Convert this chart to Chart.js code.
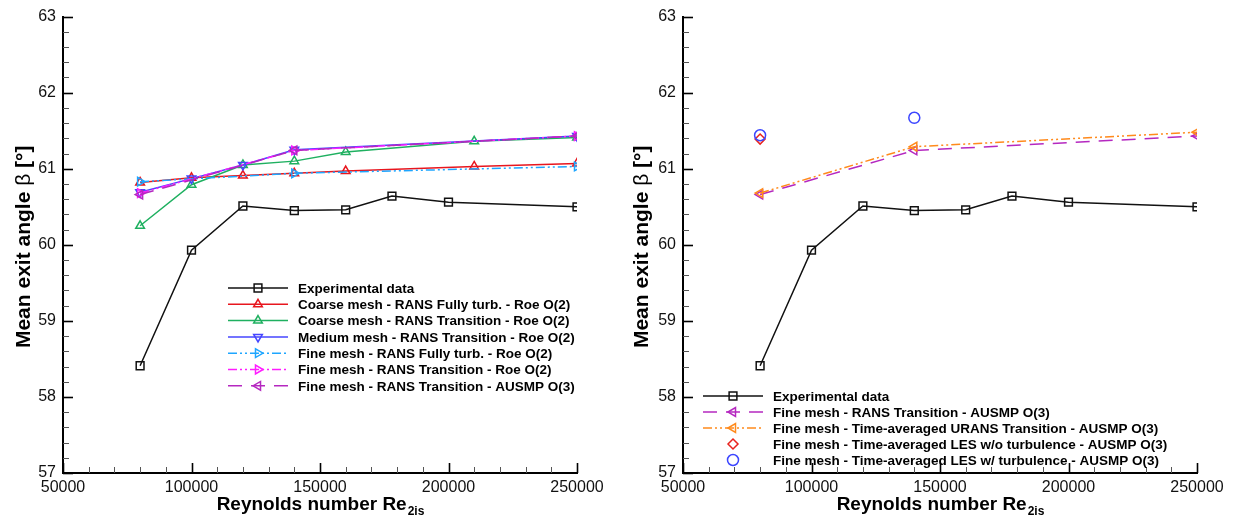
<!DOCTYPE html>
<html>
<head>
<meta charset="utf-8">
<script src="https://cdn.jsdelivr.net/npm/chart.js@4.4.0/dist/chart.umd.min.js"></script>
<style>
  body { margin: 0; background: #fff; }
  #wrap { position: relative; width: 1236px; height: 521px; }
  canvas { position: absolute; top: 0; }
</style>
</head>
<body>
<div id="wrap">
  <canvas id="left" width="618" height="521" style="left:0"></canvas>
  <canvas id="right" width="618" height="521" style="left:618px"></canvas>
</div>
<script>
// Reynolds numbers of each run set
const reExp    = [80000, 100000, 120000, 140000, 160000, 178000, 200000, 250000];
const reCoarse = [80000, 100000, 120000, 140000, 160000, 210000, 250000];
const reMedium = [80000, 100000, 120000, 140000, 250000];
const reFine   = [80000, 140000, 250000];
const reLes    = [80000];
const reLesTurb = [80000, 140000];

// mean exit angle beta [deg]
const betaExp          = [58.41, 59.93, 60.51, 60.45, 60.46, 60.64, 60.56, 60.50];
const betaCoarseFully  = [60.82, 60.88, 60.91, 60.94, 60.97, 61.03, 61.07];
const betaCoarseTrans  = [60.25, 60.79, 61.05, 61.10, 61.22, 61.36, 61.41];
const betaMediumTrans  = [60.69, 60.87, 61.05, 61.25, 61.43];
const betaFineFully    = [60.83, 60.94, 61.03];
const betaFineTrans    = [60.68, 61.24, 61.43];
const betaFineAusmp    = [60.66, 61.24, 61.43];
const betaUrans        = [60.68, 61.29, 61.48];
const betaLes          = [61.39];
const betaLesTurb      = [61.44, 61.67];

const yTicks = [57, 58, 59, 60, 61, 62, 63];
const xTicks = [50000, 100000, 150000, 200000, 250000];

const DASHDOTDOT = [9, 3, 2, 3, 2, 3];

function series(label, xs, ys, st) {
  return {
    label: label,
    data: xs.map((x, i) => ({ x: x, y: ys[i] })),
    showLine: st.line !== false,
    borderColor: st.color,
    borderWidth: st.lw || 1.5,
    borderDash: st.dash || [],
    pointStyle: st.marker,
    rotation: st.rot || 0,
    pointRadius: st.r || 5,
    pointBorderWidth: 1.5,
    pointBorderColor: st.color,
    pointBackgroundColor: 'rgba(255,255,255,0)',
    tension: 0
  };
}

function drawMarker(ctx, style, x, y, r, rot) {
  ctx.beginPath();
  if (style === 'rect') {
    const s = r * Math.SQRT1_2;
    ctx.rect(x - s, y - s, 2 * s, 2 * s);
  } else if (style === 'circle') {
    ctx.arc(x, y, r, 0, Math.PI * 2);
  } else if (style === 'rectRot') {
    ctx.moveTo(x, y - r); ctx.lineTo(x + r, y); ctx.lineTo(x, y + r); ctx.lineTo(x - r, y); ctx.closePath();
  } else {
    let a = (rot || 0) * Math.PI / 180;
    for (let k = 0; k < 3; k++) {
      const ang = a - Math.PI / 2 + k * 2 * Math.PI / 3;
      const px = x + r * Math.cos(ang), py = y + r * Math.sin(ang);
      if (k === 0) ctx.moveTo(px, py); else ctx.lineTo(px, py);
    }
    ctx.closePath();
  }
  ctx.stroke();
}

const deco = {
  id: 'deco',
  afterDraw(chart, args, o) {
    const { ctx, chartArea: a, scales: { x, y } } = chart;
    ctx.save();
    // inward ticks
    ctx.strokeStyle = '#000';
    for (let v = 50000; v <= 250000; v += 10000) {
      const major = v % 50000 === 0;
      const px = Math.round(x.getPixelForValue(v)) + 0.5;
      ctx.lineWidth = major ? 1.6 : 1;
      ctx.strokeStyle = major ? '#000' : '#555';
      ctx.beginPath(); ctx.moveTo(px, a.bottom); ctx.lineTo(px, a.bottom - (major ? 10 : 6)); ctx.stroke();
    }
    for (let i = 0; i <= 30; i++) {
      const v = 57 + i * 0.2;
      const major = i % 5 === 0;
      const py = Math.round(y.getPixelForValue(v)) + 0.5;
      ctx.lineWidth = major ? 1.6 : 1;
      ctx.strokeStyle = major ? '#000' : '#555';
      ctx.beginPath(); ctx.moveTo(a.left, py); ctx.lineTo(a.left + (major ? 10 : 6), py); ctx.stroke();
    }
    // axis titles
    ctx.fillStyle = '#000';
    ctx.textBaseline = 'alphabetic';
    const bold = 'bold 19px "Liberation Sans", Arial, sans-serif';
    const yBold = 'bold 21px "Liberation Sans", Arial, sans-serif';
    const yReg = '21px "Liberation Sans", Arial, sans-serif';
    const parts = [['Mean exit angle ', yBold], ['\u03b2', yReg], [' [\u00b0]', yBold]];
    let w = 0;
    parts.forEach(p => { ctx.font = p[1]; w += ctx.measureText(p[0]).width; });
    ctx.translate(o.yTitleX, (a.top + a.bottom) / 2 + 2);
    ctx.rotate(-Math.PI / 2);
    let cx = -w / 2;
    parts.forEach(p => { ctx.font = p[1]; ctx.fillText(p[0], cx, 8); cx += ctx.measureText(p[0]).width; });
    ctx.setTransform(1, 0, 0, 1, 0, 0);
    ctx.font = bold;
    const main = 'Reynolds number Re';
    const mw = ctx.measureText(main).width;
    ctx.font = 'bold 12px "Liberation Sans", Arial, sans-serif';
    const sw = ctx.measureText('2is').width;
    let sx = (a.left + a.right) / 2 - (mw + sw) / 2;
    ctx.font = bold;
    ctx.fillText(main, sx, 510);
    ctx.font = 'bold 12px "Liberation Sans", Arial, sans-serif';
    ctx.fillText('2is', sx + mw + 1, 515);
    // legend
    const L = o.legend;
    ctx.font = 'bold 13.5px "Liberation Sans", Arial, sans-serif';
    ctx.textBaseline = 'middle';
    chart.data.datasets.forEach((ds, i) => {
      const ly = L.y + i * L.dy;
      ctx.strokeStyle = ds.borderColor;
      ctx.lineWidth = ds.borderWidth;
      if (ds.showLine) {
        ctx.setLineDash(ds.borderDash);
        ctx.beginPath(); ctx.moveTo(L.x0, ly); ctx.lineTo(L.x1, ly); ctx.stroke();
        ctx.setLineDash([]);
      }
      ctx.lineWidth = 1.5;
      drawMarker(ctx, ds.pointStyle, (L.x0 + L.x1) / 2, ly, ds.pointRadius, ds.rotation);
      ctx.fillStyle = '#000';
      ctx.fillText(ds.label, L.tx, ly + 1);
    });
    ctx.restore();
  }
};

function makeChart(id, datasets, pad, yAxisW, opts) {
  const n = datasets.length;
  datasets.forEach((d, i) => { d.order = n - i; });
  return new Chart(document.getElementById(id), {
    type: 'scatter',
    data: { datasets: datasets },
    plugins: [deco],
    options: {
      responsive: false,
      animation: false,
      layout: { padding: { top: 10, right: pad, left: 0, bottom: 0 } },
      plugins: { legend: { display: false }, tooltip: { enabled: false }, deco: opts },
      scales: {
        x: {
          type: 'linear', min: 50000, max: 250000,
          afterBuildTicks: s => { s.ticks = xTicks.map(v => ({ value: v })); },
          afterFit: s => { s.height = 48; },
          grid: { display: false, drawTicks: false },
          border: { display: true, color: '#000', width: 2 },
          ticks: { color: '#111', padding: 5, maxRotation: 0, font: { family: '"Liberation Sans", Arial', size: 16 },
                   callback: v => String(v) }
        },
        y: {
          type: 'linear', min: 57, max: 63,
          afterBuildTicks: s => { s.ticks = yTicks.map(v => ({ value: v })); },
          afterFit: s => { s.width = yAxisW; },
          grid: { display: false, drawTicks: false },
          border: { display: true, color: '#000', width: 2 },
          ticks: { color: '#111', padding: 7, font: { family: '"Liberation Sans", Arial', size: 16 },
                   callback: v => String(v) }
        }
      }
    }
  });
}

makeChart('left', [
  series('Experimental data', reExp, betaExp, { color: '#111', marker: 'rect', r: 5.5 }),
  series('Coarse mesh - RANS Fully turb. - Roe O(2)', reCoarse, betaCoarseFully, { color: '#e8161e', marker: 'triangle' }),
  series('Coarse mesh - RANS Transition - Roe O(2)', reCoarse, betaCoarseTrans, { color: '#1fb060', marker: 'triangle' }),
  series('Medium mesh - RANS Transition - Roe O(2)', reMedium, betaMediumTrans, { color: '#4646ff', marker: 'triangle', rot: 180 }),
  series('Fine mesh - RANS Fully turb. - Roe O(2)', reFine, betaFineFully, { color: '#1ea6ff', marker: 'triangle', rot: 90, dash: DASHDOTDOT }),
  series('Fine mesh - RANS Transition - Roe O(2)', reFine, betaFineTrans, { color: '#ff1cff', marker: 'triangle', rot: 90, dash: DASHDOTDOT }),
  series('Fine mesh - RANS Transition - AUSMP O(3)', reFine, betaFineAusmp, { color: '#b528c0', marker: 'triangle', rot: -90, dash: [14, 9] })
], 41, 63, { yTitleX: 22, legend: { x0: 228, x1: 288, tx: 298, y: 288, dy: 16.3 } });

makeChart('right', [
  series('Experimental data', reExp, betaExp, { color: '#111', marker: 'rect', r: 5.5 }),
  series('Fine mesh - RANS Transition - AUSMP O(3)', reFine, betaFineAusmp, { color: '#b528c0', marker: 'triangle', rot: -90, dash: [14, 9] }),
  series('Fine mesh - Time-averaged URANS Transition - AUSMP O(3)', reFine, betaUrans, { color: '#ff8a1c', marker: 'triangle', rot: -90, dash: DASHDOTDOT }),
  series('Fine mesh - Time-averaged LES w/o turbulence - AUSMP O(3)', reLes, betaLes, { color: '#e8231e', marker: 'rectRot', line: false }),
  series('Fine mesh - Time-averaged LES w/ turbulence - AUSMP O(3)', reLesTurb, betaLesTurb, { color: '#3c46ff', marker: 'circle', line: false, r: 5.5 })
], 39, 65, { yTitleX: 22, legend: { x0: 85, x1: 145, tx: 155, y: 396, dy: 16 } });
</script>
</body>
</html>
